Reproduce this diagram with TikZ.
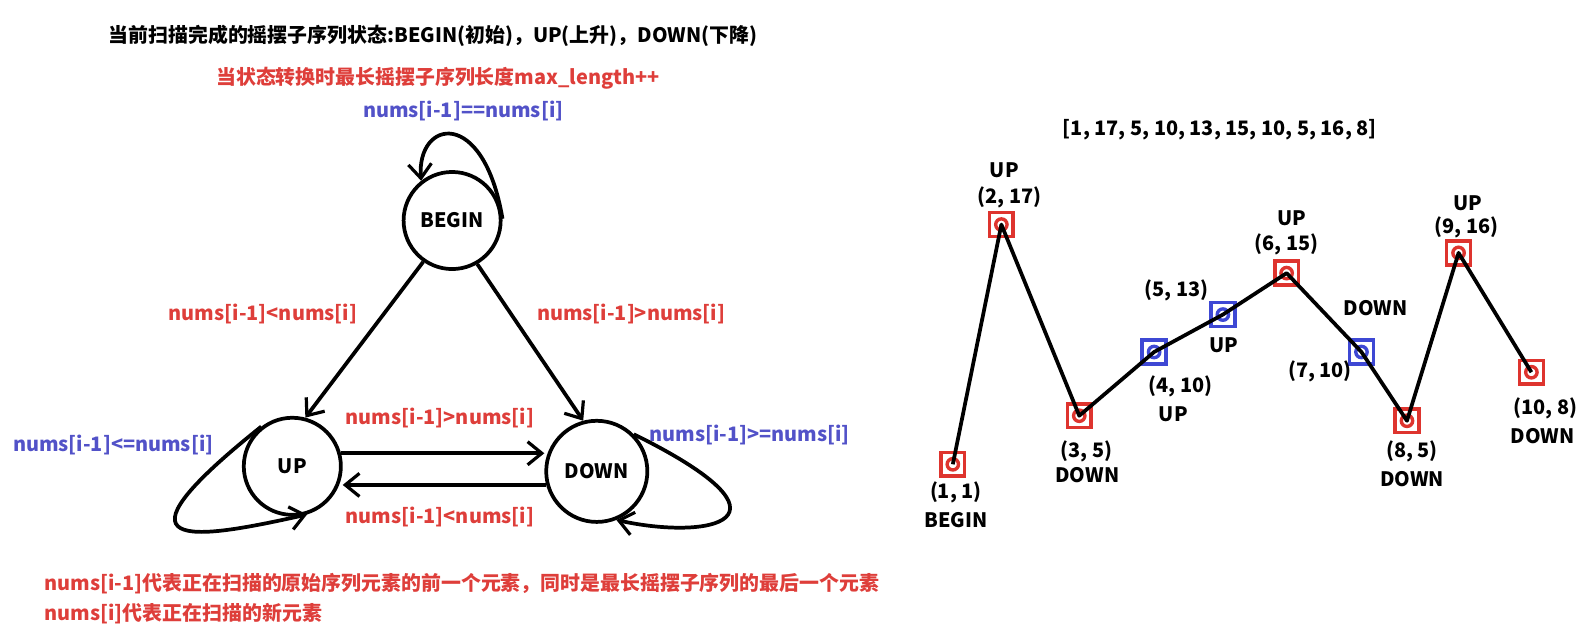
\documentclass[tikz,border=0pt]{standalone}
\usepackage{fontspec}
\setmainfont{Noto Sans CJK SC}
\usetikzlibrary{arrows.meta}
\definecolor{txtred}{RGB}{222,62,58}
\definecolor{txtblue}{RGB}{82,82,200}
\definecolor{boxred}{RGB}{222,52,46}
\definecolor{boxblue}{RGB}{62,72,212}
\begin{document}
\begin{tikzpicture}[x=0.02cm,y=-0.02cm,
  every node/.style={font=\fontsize{11.2pt}{13pt}\selectfont\bfseries},
  state/.style={circle,draw,line width=2.1pt,minimum size=1.92cm,inner sep=0pt},
  arc/.style={line width=2.1pt,-{Straight Barb[length=8pt,width=13pt,line width=1.8pt]}},
  redtxt/.style={text=txtred},
  bluetxt/.style={text=txtblue},
  ptbox/.style={draw,line width=2pt,minimum size=0.47cm,inner sep=0pt,
    path picture={\draw[line width=1.9pt] (path picture bounding box.center) circle (3.2pt);}},
  seg/.style={line width=2.1pt,line join=round},
  ]
\useasboundingbox (0,0) rectangle (1568,633);
% left: state machine
\node (title) at (428,35) {当前扫描完成的摇摆子序列状态:BEGIN(初始)，UP(上升)，DOWN(下降)};
\node[redtxt] (rule) at (433,77) {当状态转换时最长摇摆子序列长度max\_length++};
\node[state] (bgn) at (447,218) {BEGIN};
\node[state] (up) at (289,461) {UP};
\node[state,minimum size=2cm] (down) at (590,466) {DOWN};
\node[bluetxt] (eq) at (458,110) {nums[i-1]==nums[i]};
\node[redtxt] (lt) at (260,310) {nums[i-1]<nums[i]};
\node[redtxt] (gt) at (624,310) {nums[i-1]>nums[i]};
\node[redtxt] (gt2) at (435,413) {nums[i-1]>nums[i]};
\node[redtxt] (lt2) at (435,511) {nums[i-1]<nums[i]};
\node[bluetxt] (le) at (112,440) {nums[i-1]<=nums[i]};
\node[bluetxt] (ge) at (741,430) {nums[i-1]>=nums[i]};
\draw[arc] (bgn.2) .. controls (478,105) and (412,118) .. (bgn.128);
\draw[arc] (bgn.235) -- (up.75);
\draw[arc] (bgn.300) -- (down.105);
\draw[arc] (up.15) -- (up.15 -| down.west);
\draw[arc] (down.195) -- (down.195 -| up.east);
\draw[arc] (up.128) .. controls (100,548) and (190,534) .. (up.287);
\draw[arc] (down.45) .. controls (800,515) and (700,534) .. (down.292);
\node[redtxt,anchor=west] (note1) at (38,577) {nums[i-1]代表正在扫描的原始序列元素的前一个元素，同时是最长摇摆子序列的最后一个元素};
\node[redtxt,anchor=west] (note2) at (38,607) {nums[i]代表正在扫描的新元素};
% right: the sequence
\node (seq) at (1206,128) {[1, 17, 5, 10, 13, 15, 10, 5, 16, 8]};
\node[ptbox,draw=boxred] (p1) at (942,459) {};
\node[ptbox,draw=boxred] (p2) at (990,222) {};
\node[ptbox,draw=boxred] (p3) at (1067,411) {};
\node[ptbox,draw=boxblue] (p4) at (1141,348) {};
\node[ptbox,draw=boxblue] (p5) at (1209,311) {};
\node[ptbox,draw=boxred] (p6) at (1272,270) {};
\node[ptbox,draw=boxblue] (p7) at (1346,348) {};
\node[ptbox,draw=boxred] (p8) at (1391,416) {};
\node[ptbox,draw=boxred] (p9) at (1442,250) {};
\node[ptbox,draw=boxred] (p10) at (1514,368) {};
\draw[seg] (p1.center) -- (p2.center) -- (p3.center) -- (p4.center) -- (p5.center)
  -- (p6.center) -- (p7.center) -- (p8.center) -- (p9.center) -- (p10.center);
\node (c1) at (945,487) {(1, 1)};
\node (s1) at (945,514) {BEGIN};
\node (s2) at (993,168) {UP};
\node (c2) at (998,195) {(2, 17)};
\node (c3) at (1074,446) {(3, 5)};
\node (s3) at (1075,470) {DOWN};
\node (c4) at (1167,382) {(4, 10)};
\node (s4) at (1160,410) {UP};
\node (c5) at (1163,287) {(5, 13)};
\node (s5) at (1210,341) {UP};
\node (s6) at (1277,216) {UP};
\node (c6) at (1272,242) {(6, 15)};
\node (s7) at (1360,305) {DOWN};
\node (c7) at (1305,367) {(7, 10)};
\node (c8) at (1396,446) {(8, 5)};
\node (s8) at (1396,474) {DOWN};
\node (s9) at (1451,201) {UP};
\node (c9) at (1450,225) {(9, 16)};
\node (c10) at (1528,404) {(10, 8)};
\node (s10) at (1525,431) {DOWN};
\end{tikzpicture}
\end{document}
